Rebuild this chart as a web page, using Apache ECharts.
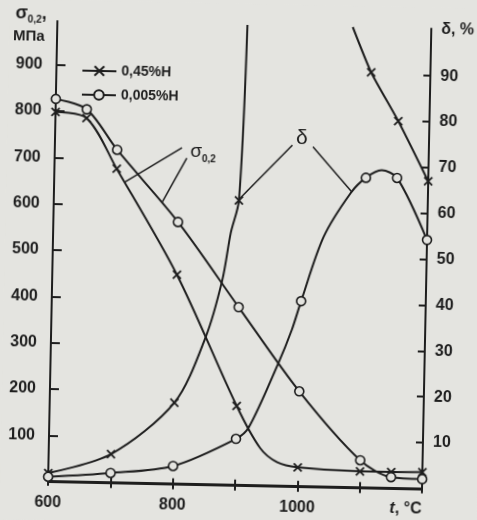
<!DOCTYPE html>
<html>
<head>
<meta charset="utf-8">
<script src="https://cdn.jsdelivr.net/npm/echarts@6/dist/echarts.min.js"></script>
<style>
  html, body { margin: 0; padding: 0; background: #e4e4e0; overflow: hidden; }
  #chart { width: 477px; height: 520px; transform: rotate(1.16deg); transform-origin: 48px 485px; }
</style>
</head>
<body>
<div id="chart"></div>
<script>
// Temperature axis, °C
const tempLabels = [600, 800, 1000];
const tempTicks = [700, 800, 900, 1000, 1100];
// Left axis: σ0,2, MPa; right axis: δ, %
const sigmaTicks = [100, 200, 300, 400, 500, 600, 700, 800, 900];
const deltaTicks = [10, 20, 30, 40, 50, 60, 70, 80, 90];

// σ0,2 (MPa), measured points
const sigmaHighH = [[600, 798], [650, 786], [700, 678], [800, 452], [900, 172], [1000, 42], [1100, 36], [1150, 36], [1200, 37]];
const sigmaLowH = [[600, 826], [650, 805], [700, 719], [800, 566], [900, 385], [1000, 206], [1100, 60], [1150, 25], [1200, 22]];
// points along the drawn σ curve between measurements (no marker)
const sigmaHighHCurve = [[939, 82], [967, 52]];

// δ (%), 0.45 %H: rising branch and falling branch (leaves the frame above 100 %)
const deltaHighH = [[600, 1.7], [700, 6.1], [800, 17.6], [897, 62]];
const deltaHighHCurve = [[848, 32], [873, 44.6], [885, 54.9], [905, 100.3]];
const deltaHighHTail = [[1105, 90.5], [1150, 80], [1200, 67]];
const deltaHighHTailCurve = [[1074, 100.3]];
// δ (%), 0.005 %H
const deltaLowH = [[600, 0.9], [700, 2.0], [800, 3.8], [900, 10], [1000, 40.3], [1100, 67.5], [1150, 67.6], [1200, 54.2]];
const deltaLowHCurve = [[920, 12.5], [965, 26.5], [986, 34], [1034, 54.4], [1076, 64.1], [1125, 69.2]];

const INK = '#1e1e1e';
const PAPER = '#e4e4e0';
const FONT = 'Liberation Sans, Arial, sans-serif';
const CROSS = 'path://M0,0L10,10M10,0L0,10';

function curve(marked, extra) {
  return marked.map(p => ({ value: p }))
    .concat(extra.map(p => ({ value: p, symbol: 'none' })))
    .sort((a, b) => a.value[0] - b.value[0]);
}

const crossStyle = {
  symbol: CROSS, symbolSize: 8,
  itemStyle: { color: INK, borderColor: INK, borderWidth: 1.8 },
  lineStyle: { color: INK, width: 2 }
};
const circleStyle = {
  symbol: 'circle', symbolSize: 9,
  itemStyle: { color: PAPER, borderColor: INK, borderWidth: 1.6 },
  lineStyle: { color: INK, width: 2 }
};
const leader = { color: INK, width: 1.5, type: 'solid' };
const tickLine = { color: INK, width: 2 };
const labelFont = { fontSize: 16, fontWeight: 'bold', color: INK, fontFamily: FONT };

const chart = echarts.init(document.getElementById('chart'));
chart.setOption({
  animation: false,
  backgroundColor: PAPER,
  textStyle: { fontFamily: FONT, color: INK },
  grid: { left: 48, right: 55, top: 21, bottom: 35 },
  legend: {
    data: ['0,45%H', '0,005%H'],
    orient: 'vertical', left: 68, top: 58,
    itemWidth: 34, itemHeight: 12, itemGap: 10,
    textStyle: { fontSize: 14, fontWeight: 'bold', color: INK, fontFamily: FONT },
    selectedMode: false
  },
  xAxis: [{
    type: 'value', min: 600, max: 1200, position: 'bottom',
    axisLine: { lineStyle: { color: INK, width: 2 } },
    axisTick: { show: true, inside: true, length: 6, customValues: tempTicks, lineStyle: tickLine },
    axisLabel: { customValues: tempLabels, margin: 10, formatter: v => String(v), ...labelFont },
    splitLine: { show: false },
    name: '{i|t}, °C', nameLocation: 'end', nameGap: 0,
    nameTextStyle: {
      align: 'right', verticalAlign: 'top', padding: [12, 0, 0, 0], ...labelFont,
      rich: { i: { fontStyle: 'italic', ...labelFont } }
    }
  }, {
    type: 'value', min: 600, max: 1200, position: 'top',
    axisLine: { lineStyle: { color: INK, width: 2 } },
    axisTick: { show: true, inside: true, length: 6, customValues: tempTicks, lineStyle: tickLine },
    axisLabel: { show: false },
    splitLine: { show: false }
  }],
  yAxis: [{
    type: 'value', min: -7, max: 994, position: 'left',
    axisLine: { show: true, lineStyle: { color: INK, width: 2 } },
    axisTick: { show: true, inside: true, length: 9, customValues: sigmaTicks, lineStyle: tickLine },
    axisLabel: { customValues: sigmaTicks, margin: 14, ...labelFont },
    splitLine: { show: false }
  }, {
    type: 'value', min: -0.9, max: 100.3, position: 'right',
    axisLine: { show: true, lineStyle: { color: INK, width: 2 } },
    axisTick: { show: true, inside: true, length: 7, customValues: deltaTicks, lineStyle: tickLine },
    axisLabel: { customValues: deltaTicks, margin: 10, ...labelFont },
    splitLine: { show: false }
  }],
  graphic: [
    { type: 'text', left: 6, top: 5, style: {
        text: '{s|σ}{b|0,2}{s|,}', fontFamily: FONT, fill: INK,
        rich: {
          s: { fontSize: 18, fontWeight: 'bold', fontFamily: FONT, fill: INK, verticalAlign: 'bottom' },
          b: { fontSize: 10, fontWeight: 'bold', fontFamily: FONT, fill: INK, verticalAlign: 'bottom', padding: [0, 0, -2, 0] }
        } } },
    { type: 'text', left: 4, top: 29, style: { text: 'МПа', fontSize: 15, fontWeight: 'bold', fontFamily: FONT, fill: INK } },
    { type: 'text', left: 432, top: 14, style: { text: 'δ, %', fontSize: 16, fontWeight: 'bold', fontFamily: FONT, fill: INK } }
  ],
  series: [{
    name: '0,45%H', type: 'line', xAxisIndex: 0, yAxisIndex: 0, smooth: 0.3, z: 3,
    data: curve(sigmaHighH, sigmaHighHCurve), ...crossStyle
  }, {
    name: '0,005%H', type: 'line', xAxisIndex: 0, yAxisIndex: 0, smooth: 0.3, z: 3,
    data: curve(sigmaLowH, []), ...circleStyle,
    markLine: {
      silent: true, symbol: ['none', 'none'], label: { show: false }, lineStyle: leader,
      data: [
        [{ coord: [804, 726] }, { coord: [714, 650] }],
        [{ coord: [812, 704] }, { coord: [774, 608] }]
      ]
    },
    markPoint: {
      silent: true, symbol: 'circle', symbolSize: 1, itemStyle: { color: 'rgba(0,0,0,0)' },
      label: {
        show: true, position: 'inside', formatter: '{s|σ}{b|0,2}',
        rich: {
          s: { fontSize: 19, fontFamily: FONT, color: INK, verticalAlign: 'bottom' },
          b: { fontSize: 10, fontWeight: 'bold', fontFamily: FONT, color: INK, verticalAlign: 'bottom', padding: [0, 0, -3, 0] }
        }
      },
      data: [{ coord: [838, 718] }]
    }
  }, {
    name: '0,45%H', type: 'line', xAxisIndex: 0, yAxisIndex: 1, smooth: 0.3, z: 3,
    data: curve(deltaHighH, deltaHighHCurve), ...crossStyle
  }, {
    name: '0,45%H', type: 'line', xAxisIndex: 0, yAxisIndex: 1, smooth: 0.2, z: 3,
    data: curve(deltaHighHTail, deltaHighHTailCurve), ...crossStyle
  }, {
    name: '0,005%H', type: 'line', xAxisIndex: 0, yAxisIndex: 1, smooth: 0.3, z: 3,
    data: curve(deltaLowH, deltaLowHCurve), ...circleStyle,
    markLine: {
      silent: true, symbol: ['none', 'none'], label: { show: false }, lineStyle: leader,
      data: [
        [{ coord: [981, 74.3] }, { coord: [899, 62.5] }],
        [{ coord: [1014, 74] }, { coord: [1078, 64.3] }]
      ]
    },
    markPoint: {
      silent: true, symbol: 'circle', symbolSize: 1, itemStyle: { color: 'rgba(0,0,0,0)' },
      label: { show: true, position: 'inside', formatter: 'δ', fontSize: 21, fontFamily: FONT, color: INK },
      data: [{ coord: [996, 75.9] }]
    }
  }]
});
</script>
</body>
</html>
